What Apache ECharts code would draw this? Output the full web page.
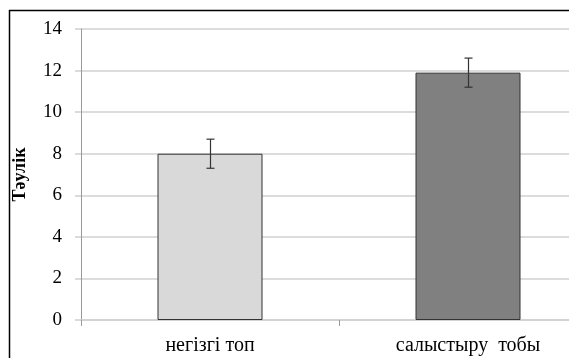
<!DOCTYPE html>
<html><head><meta charset="utf-8">
<script src="https://cdn.jsdelivr.net/npm/echarts@6/dist/echarts.min.js"></script>
<style>html,body{margin:0;padding:0;background:#fff}#c{width:569px;height:358px}</style>
</head><body><div id="c"></div>
<script>
const categories = ['негізгі топ', 'салыстыру  тобы'];
const values = [8.0, 11.9];
const errors = [0.7, 0.7];
const barColors = ['#d9d9d9', '#808080'];
const yTicks = [0, 2, 4, 6, 8, 10, 12, 14];
const yName = 'Тәулік';

const chart = echarts.init(document.getElementById('c'), null, {renderer: 'canvas'});
const font = '"Liberation Serif", "Times New Roman", serif';
chart.setOption({
  animation: false,
  backgroundColor: '#fff',
  grid: {left: 81, top: 29, width: 516, height: 291, containLabel: false, outerBoundsMode: 'none'},
  graphic: [
    {type: 'line', shape: {x1: 9, y1: 10.5, x2: 569, y2: 10.5}, style: {stroke: '#000', lineWidth: 1.5}, z: 100},
    {type: 'line', shape: {x1: 9.5, y1: 10, x2: 9.5, y2: 358}, style: {stroke: '#000', lineWidth: 1.5}, z: 100}
  ],
  xAxis: {
    type: 'category', data: categories,
    axisLine: {lineStyle: {color: '#d0d0d0', width: 1.5}},
    axisTick: {show: true, length: 6, lineStyle: {color: '#999'}},
    axisLabel: {margin: 16, fontFamily: font, fontSize: 20, color: '#000'}
  },
  yAxis: {
    type: 'value', min: yTicks[0], max: yTicks[yTicks.length - 1], interval: 2,
    name: yName, nameLocation: 'middle', nameGap: 52,
    nameTextStyle: {fontFamily: font, fontSize: 18, fontWeight: 'bold', color: '#000'},
    axisLine: {show: true, lineStyle: {color: '#999', width: 1}},
    axisTick: {show: true, length: 6, lineStyle: {color: '#d0d0d0', width: 1.5}},
    splitLine: {lineStyle: {color: '#d0d0d0', width: 1.5}},
    axisLabel: {margin: 19, fontFamily: font, fontSize: 19, color: '#000'}
  },
  series: [
    {
      type: 'bar', barWidth: 105,
      data: values.map((v, i) => ({value: v, itemStyle: {color: barColors[i], borderColor: '#333', borderWidth: 1}})),
      z: 2
    },
    {
      type: 'custom', z: 5,
      data: values.map((v, i) => [i, v - errors[i], v + errors[i]]),
      renderItem: function (params, api) {
        const lo = api.coord([api.value(0), api.value(1)]);
        const hi = api.coord([api.value(0), api.value(2)]);
        const x = Math.round(lo[0]) + 0.5, w = 4;
        const st = {stroke: '#333', lineWidth: 1.2};
        return {type: 'group', children: [
          {type: 'line', shape: {x1: x, y1: hi[1], x2: x, y2: lo[1]}, style: st},
          {type: 'line', shape: {x1: x - w, y1: hi[1], x2: x + w, y2: hi[1]}, style: st},
          {type: 'line', shape: {x1: x - w, y1: lo[1], x2: x + w, y2: lo[1]}, style: st}
        ]};
      }
    }
  ]
});
</script></body></html>
